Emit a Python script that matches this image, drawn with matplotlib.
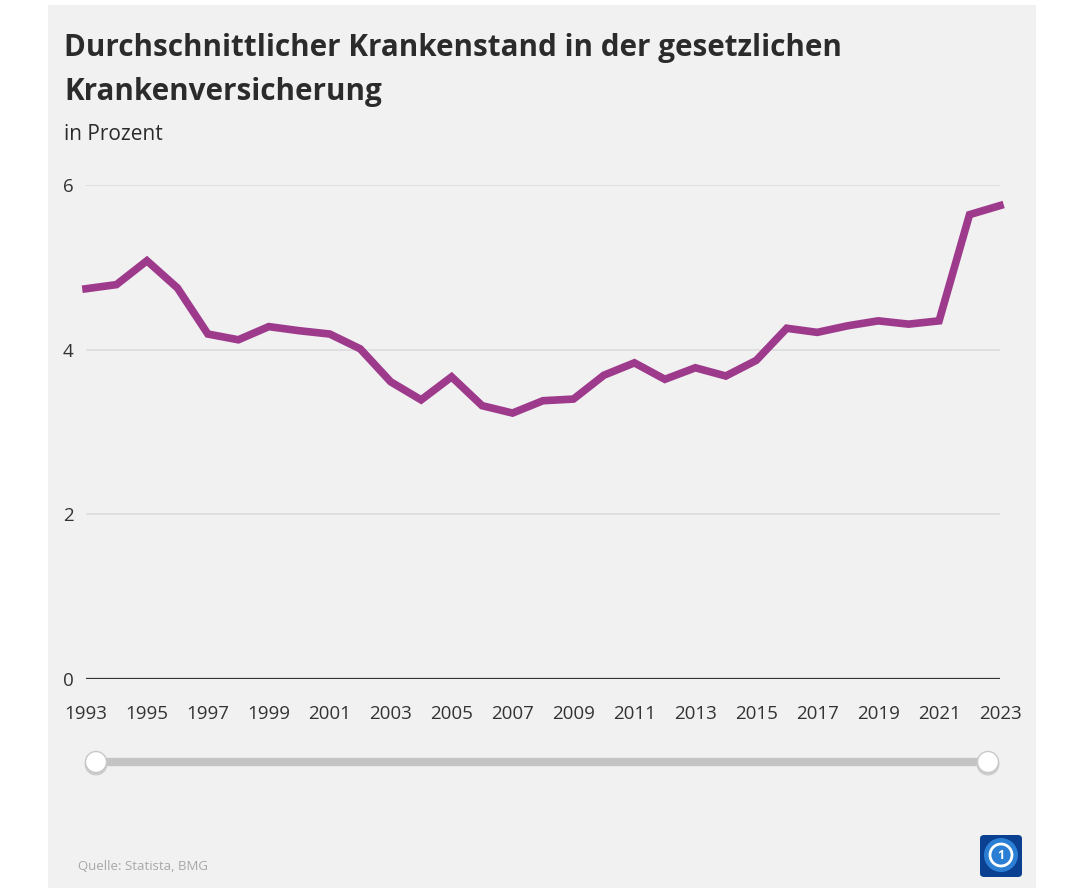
import matplotlib.pyplot as plt
from matplotlib.patches import Rectangle, FancyBboxPatch, Ellipse
from matplotlib.lines import Line2D

years = list(range(1993, 2024))
krankenstand = [4.74, 4.79, 5.08, 4.75, 4.19, 4.12, 4.28, 4.23, 4.19, 4.01,
                3.61, 3.39, 3.67, 3.32, 3.23, 3.38, 3.40, 3.69, 3.84, 3.64,
                3.78, 3.68, 3.87, 4.26, 4.21, 4.29, 4.35, 4.31, 4.35, 5.64,
                5.75]
y_ticks = [0, 2, 4, 6]
x_ticks = list(range(1993, 2024, 2))

W, H = 1080, 888
plt.rcParams['font.family'] = ['Open Sans', 'DejaVu Sans']

fig = plt.figure(figsize=(W / 100, H / 100), dpi=100, facecolor='white')


def px(x, y):
    # pixel position (from top left) -> figure fraction
    return x / W, 1 - y / H


# grey panel behind the chart
fig.patches.append(Rectangle((48 / W, 0), (1036 - 48) / W, 1 - 5 / H,
                             transform=fig.transFigure, facecolor='#f1f1f1',
                             edgecolor='none', zorder=-5))

ax = fig.add_axes([86 / W, 1 - 679 / H, (1000 - 86) / W, (679 - 185) / H])
ax.set_facecolor('none')
ax.plot(years, krankenstand, color='#9e3a8c', lw=5.5, solid_joinstyle='miter',
        clip_on=False, zorder=3)
ax.set_xlim(1993, 2023)
ax.set_ylim(0, 6)
ax.set_yticks(y_ticks)
ax.set_xticks(x_ticks)
ax.grid(axis='y', color='#dcdcdc', lw=1.2)
ax.axhline(0, color='#333333', lw=1.6, zorder=2)
for s in ax.spines.values():
    s.set_visible(False)
ax.tick_params(length=0, labelsize=13.5, labelcolor='#333333')
ax.tick_params(axis='y', pad=9)
ax.tick_params(axis='x', pad=19)

fig.text(*px(64, 48), 'Durchschnittlicher Krankenstand in der gesetzlichen',
         fontsize=21.3, fontweight='bold', color='#2b2b2b', va='center')
fig.text(*px(64, 92), 'Krankenversicherung',
         fontsize=21.3, fontweight='bold', color='#2b2b2b', va='center')
fig.text(*px(64, 134), 'in Prozent', fontsize=15, color='#2b2b2b',
         va='center')
fig.text(*px(78, 866), 'Quelle: Statista, BMG', fontsize=9.5,
         color='#a8a8a8', va='center')

# slider
fig.lines.append(Line2D([96 / W, 988 / W], [1 - 762 / H] * 2,
                        transform=fig.transFigure, color='#c4c4c4', lw=6,
                        solid_capstyle='round', zorder=1))
for cx in (96, 988):
    fig.patches.append(Ellipse(px(cx, 764), 23 / W, 23 / H,
                               transform=fig.transFigure, facecolor='#cccccc',
                               edgecolor='none', zorder=2))
    fig.patches.append(Ellipse(px(cx, 762), 21 / W, 21 / H,
                               transform=fig.transFigure, facecolor='white',
                               edgecolor='#c8c8c8', lw=1, zorder=3))

# logo
fig.patches.append(FancyBboxPatch(px(980, 877), 42 / W, 42 / H,
                                  boxstyle='round,pad=0,rounding_size=0.004',
                                  transform=fig.transFigure, facecolor='#0b3f8f',
                                  edgecolor='none', zorder=2))
fig.patches.append(Ellipse(px(1001, 855), 34 / W, 34 / H,
                           transform=fig.transFigure, facecolor='#2a7fd4',
                           edgecolor='none', zorder=3))
fig.patches.append(Ellipse(px(1001, 855), 22 / W, 22 / H,
                           transform=fig.transFigure, facecolor='none',
                           edgecolor='white', lw=2, zorder=4))
fig.text(*px(1001, 855), '1', fontsize=9, fontweight='bold',
         color='white', ha='center', va='center', zorder=5)

fig.savefig('out.png', dpi=100, facecolor='white')
